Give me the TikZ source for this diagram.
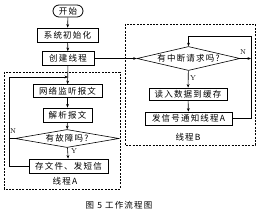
\documentclass[tikz,border=0pt]{standalone}
\usepackage{fontspec}
\newfontfamily\cjk[LetterSpace=14]{Noto Sans CJK SC}
\usetikzlibrary{shapes.geometric,arrows.meta}
\begin{document}
\begin{tikzpicture}[x=1pt,y=-1pt,
  every node/.style={inner sep=0pt,font=\cjk\fontsize{8.5}{9}\selectfont},
  procbox/.style={draw,line width=0.8pt,minimum height=13pt},
  decision/.style={draw,line width=0.6pt,diamond,inner sep=0pt},
  conn/.style={line width=0.6pt},
  arr/.style={conn,-{Stealth[length=3.5pt,width=2.8pt]}},
  region/.style={line width=0.6pt,dash pattern=on 2pt off 1.3pt},
  lbl/.style={font=\fontsize{7}{8}\selectfont}
]
\useasboundingbox (0,0) rectangle (260,211);
% thread regions
\draw[region] (4,72) rectangle (120,189);
\draw[region] (125,24) rectangle (255,145);
% main line
\node[draw,line width=0.8pt,rounded corners=6pt,minimum width=30pt,minimum height=12pt] (start) at (68,11) {开始};
\node[procbox,minimum width=61pt,minimum height=14pt] (init) at (67.5,35) {系统初始化};
\node[procbox,minimum width=52pt,minimum height=14pt] (create) at (68,58.5) {创建线程};
% thread A
\node[procbox,minimum width=69pt] (listen) at (67.5,91) {网络监听报文};
\node[procbox,minimum width=49pt,minimum height=14pt] (parse) at (67.5,115) {解析报文};
\node[decision,minimum width=104pt,minimum height=18pt,aspect=5.8] (fault) at (67,138.5) {有故障吗?};
\node[procbox,minimum width=79pt,minimum height=14pt] (store) at (68.5,166) {存文件、发短信};
\node (labA) at (65,181) {线程A};
\node[lbl] (nA) at (13,131) {N};
\node[lbl] (yA) at (74,151) {Y};
% thread B
\node[decision,minimum width=103pt,minimum height=24pt,aspect=4.3] (req) at (188.5,58.5) {有中断请求吗?};
\node[procbox,minimum width=78pt,minimum height=12pt] (read) at (188,94) {读入数据到缓存};
\node[procbox,minimum width=87pt] (notify) at (188.5,118.5) {发信号通知线程A};
\node (labB) at (188,137) {线程B};
\node[lbl] (nB) at (243,52) {N};
\node[lbl] (yB) at (193,78) {Y};
% caption
\node (cap) at (119,205) {图\ 5\ 工作流程图};
% loop coordinates
\coordinate (aL) at (9,77);
\coordinate (aT) at (68,77);
\coordinate (bR) at (251,36);
\coordinate (bT) at (req.north |- bR);
% connectors main
\draw[arr] (start) -- (init);
\draw[arr] (init) -- (create);
\draw[arr] (create) -- (listen);
\draw[arr] (listen) -- (parse);
\draw[arr] (parse) -- (fault);
\draw[arr] (fault) -- (store);
\draw[conn] (store.west) -| (aL);
\draw[arr] (aL) -- (aT);
\draw[conn] (fault.west) -- (fault.west -| aL);
% thread B connectors
\draw[arr] (create.east) -- (req.west);
\draw[arr] (req) -- (read);
\draw[arr] (read) -- (notify);
\draw[conn] (notify.east) -| (bR);
\draw[arr] (bR) -- (bT) -- (req.north);
\draw[arr] (req.east) -- (req.east -| bR);
\end{tikzpicture}
\end{document}
